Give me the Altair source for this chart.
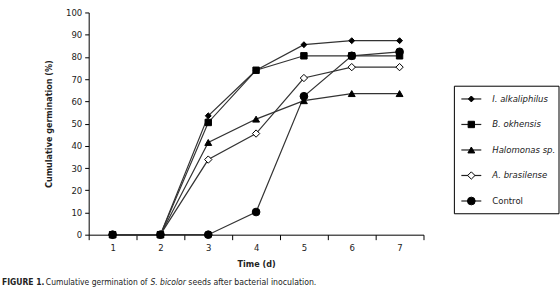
import altair as alt
import pandas as pd

days = ["1", "2", "3", "4", "5", "6", "7"]
series_names = ["I. alkaliphilus", "B. okhensis", "Halomonas sp.", "A. brasilense", "Control"]
alkaliphilus = [0, 0, 53.5, 74, 85.5, 87.3, 87.3]
okhensis = [0, 0, 50.5, 74, 80.5, 80.5, 80.5]
halomonas = [0, 0, 41.5, 52, 60.3, 63.5, 63.5]
brasilense = [0, 0, 33.8, 45.5, 70.5, 75.4, 75.4]
control = [0, 0, 0, 10.2, 62.3, 80.5, 82.3]
y_ticks = [0, 10, 20, 30, 40, 50, 60, 70, 80, 90, 100]
caption_parts = ["FIGURE 1.", "Cumulative germination of", "S. bicolor", "seeds after bacterial inoculation."]

values = [alkaliphilus, okhensis, halomonas, brasilense, control]
rows = []
for name, vals in zip(series_names, values):
    for d, v in zip(days, vals):
        rows.append({"day": d, "value": v, "series": name})
df = pd.DataFrame(rows)

FONT = "DejaVu Sans Condensed, Liberation Sans Narrow, Liberation Sans, sans-serif"
shape_range = ["diamond", "square", "triangle-up", "diamond", "circle"]
fill_range = ["black", "black", "black", "white", "black"]
size_range = [35, 60, 45, 45, 50]

x_enc = alt.X("day:O", scale=alt.Scale(type="band", paddingInner=0, paddingOuter=0),
              bandPosition=0.5,
              axis=alt.Axis(title="Time (d)", tickBand="extent", labelAngle=0, tickSize=5,
                            labelPadding=3, titlePadding=7, domainColor="black", tickColor="black",
                            labelColor="#222", titleColor="#222", labelFont=FONT, titleFont=FONT,
                            labelFontSize=9.5, titleFontSize=9, titleFontWeight="bold"))
y_enc = alt.Y("value:Q", scale=alt.Scale(domain=[0, 100], nice=False),
              axis=alt.Axis(title="Cumulative germination (%)", values=y_ticks, grid=False,
                            tickSize=4, labelPadding=3, titlePadding=12, domainColor="black",
                            tickColor="black", labelColor="#222", titleColor="#222",
                            labelFont=FONT, titleFont=FONT, labelFontSize=9.5,
                            titleFontSize=9, titleFontWeight="bold"))

base = alt.Chart(df)
lines = base.mark_line(color="#333", strokeWidth=1.2).encode(
    x=x_enc, y=y_enc, detail="series:N")
points = base.mark_point(opacity=1, stroke="black", strokeWidth=1).encode(
    x=x_enc, y=y_enc,
    shape=alt.Shape("series:N", scale=alt.Scale(domain=series_names, range=shape_range), legend=None),
    fill=alt.Fill("series:N", scale=alt.Scale(domain=series_names, range=fill_range), legend=None),
    size=alt.Size("series:N", scale=alt.Scale(domain=series_names, range=size_range), legend=None),
)

cap_x = [-87, -43, 62, 100]
cap_styles = [("bold", "normal", 8.5), ("normal", "normal", 8.5), ("normal", "italic", 8.5), ("normal", "normal", 8.7)]
cap_layers = []
for txt, cx, (fw, fs, fsz) in zip(caption_parts, cap_x, cap_styles):
    cap_layers.append(
        alt.Chart(pd.DataFrame({"t": [txt]})).mark_text(
            align="left", baseline="middle", font=FONT, fontSize=fsz, fontWeight=fw,
            fontStyle=fs, color="#222").encode(text="t:N", x=alt.value(cx), y=alt.value(271))
    )

main = alt.layer(lines, points, *cap_layers).properties(width=336, height=223)

leg_df = pd.DataFrame({"series": series_names})
leg_y = alt.Y("series:N", sort=series_names,
              scale=alt.Scale(type="band", domain=series_names, range=[74, 202], paddingInner=0, paddingOuter=0),
              axis=None)
leg_base = alt.Chart(leg_df)
leg_rules = leg_base.mark_rule(color="#222", strokeWidth=1.2).encode(
    y=leg_y, x=alt.value(7), x2=alt.value(27))
leg_points = leg_base.mark_point(opacity=1, stroke="black", strokeWidth=1).encode(
    y=leg_y, x=alt.value(17),
    shape=alt.Shape("series:N", scale=alt.Scale(domain=series_names, range=shape_range), legend=None),
    fill=alt.Fill("series:N", scale=alt.Scale(domain=series_names, range=fill_range), legend=None),
    size=alt.Size("series:N", scale=alt.Scale(domain=series_names, range=[20, 40, 25, 25, 25]), legend=None),
)
leg_text_it = leg_base.transform_filter(alt.datum.series != "Control").mark_text(
    align="left", baseline="middle", font=FONT, fontSize=9.5, fontStyle="italic", color="#222").encode(
    y=leg_y, x=alt.value(38), text="series:N")
leg_text_n = leg_base.transform_filter(alt.datum.series == "Control").mark_text(
    align="left", baseline="middle", font=FONT, fontSize=9.5, color="#222").encode(
    y=leg_y, x=alt.value(38), text="series:N")
leg_box = alt.Chart(pd.DataFrame({"b": [0]})).mark_rect(fill="transparent", stroke="black", strokeWidth=1).encode(
    x=alt.value(0), x2=alt.value(105), y=alt.value(74), y2=alt.value(202))
legend = alt.layer(leg_box, leg_rules, leg_points, leg_text_it, leg_text_n).properties(width=105, height=223)

chart = alt.hconcat(main, legend, spacing=29).properties(
    padding={"left": 2, "top": 7, "right": 0, "bottom": 0}, background="white"
).configure_view(stroke="transparent", strokeWidth=0)

chart.save("out.html", embed_options={"renderer": "svg", "actions": False})
